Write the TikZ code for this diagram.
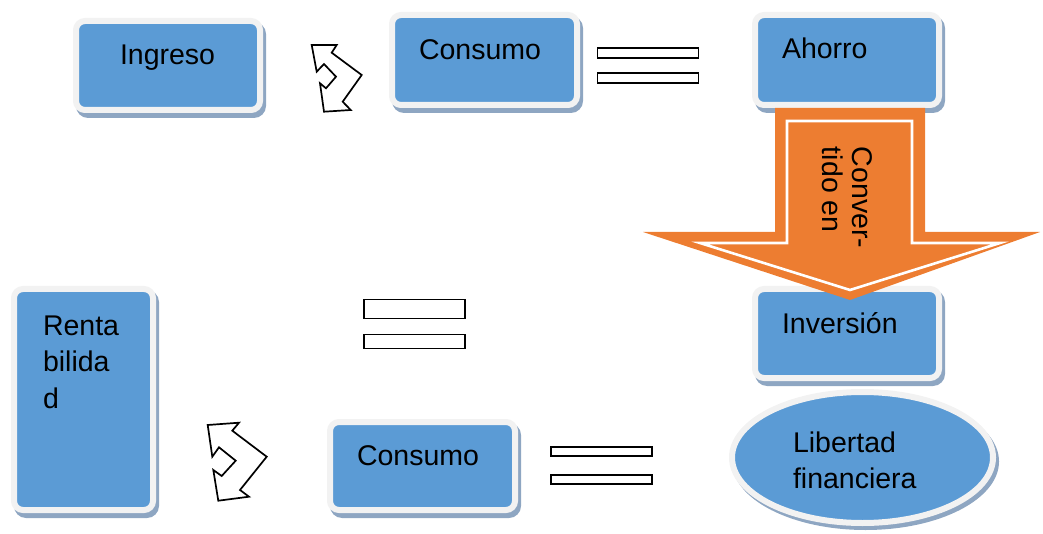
\documentclass[tikz,border=0pt]{standalone}
\usepackage{fontspec}
\setmainfont{Liberation Sans}
\usetikzlibrary{shapes.geometric,backgrounds}
\definecolor{boxblue}{HTML}{5B9BD5}
\definecolor{framegray}{HTML}{F2F2F2}
\definecolor{shadowblue}{HTML}{8EA6C2}
\definecolor{arroworange}{HTML}{ED7D31}

\begin{document}
\begin{tikzpicture}[x=1pt,y=-1pt,
  card/.style={draw=framegray, line width=6pt, fill=boxblue, rounded corners=9pt,
    inner sep=0pt, outer sep=0pt, minimum width=#1},
  cardtext/.style={inner sep=0pt, outer sep=0pt, anchor=base west,
    font=\fontsize{28.5}{36.5}\selectfont, align=left},
  bar/.style={draw=black, line width=1.4pt, fill=white, inner sep=0pt, outer sep=0pt,
    minimum width=101pt},
  cardshadow/.style={fill=shadowblue, rounded corners=12pt},
  bentarrow/.style={draw=black, fill=white, line width=1.7pt, line join=miter}
]
\useasboundingbox (0,0) rectangle (1043,534);

% rounded boxes
\node[card=184pt, minimum height=89pt] (ingreso) at (168,65.5) {};
\node[card=185pt, minimum height=90pt] (consumoA) at (484.5,60) {};
\node[card=184pt, minimum height=90pt] (ahorro) at (847,60) {};
\node[card=184pt, minimum height=89pt] (inversion) at (847,333.5) {};
\node[card=139pt, minimum height=221pt] (rentabilidad) at (83.5,399.5) {};
\node[card=185pt, minimum height=88pt] (consumoB) at (422.5,466) {};
\node[ellipse, draw=framegray, line width=6pt, fill=boxblue, inner sep=0pt, outer sep=0pt,
      minimum width=261pt, minimum height=131pt] (libertad) at (862.5,457.5) {};

% offset shadows behind the boxes
\begin{scope}[on background layer]
  \foreach \b in {ingreso,consumoA,ahorro,inversion,rentabilidad,consumoB}
    \fill[cardshadow] ([xshift=0pt,yshift=-8pt]\b.south west) rectangle ([xshift=6pt,yshift=-1pt]\b.north east);
  \fill[shadowblue] ([xshift=3pt,yshift=-4pt]libertad.center) ellipse [x radius=133.5pt, y radius=68.5pt];
\end{scope}

% box labels (multi-line labels are placed by the baseline of their last line)
\node[cardtext] (tIngreso) at (120,65) {Ingreso};
\node[cardtext] (tConsumoA) at (419,60) {Consumo};
\node[cardtext] (tAhorro) at (782,59) {Ahorro};
\node[cardtext] (tInversion) at (782,333) {Inversión};
\node[cardtext] (tRenta) at (43,408) {Renta\\bilida\\d};
\node[cardtext] (tConsumoB) at (357,465) {Consumo};
\node[cardtext, font=\fontsize{28.5}{36}\selectfont] (tLibertad) at (793,488) {Libertad\\financiera};

% equality signs
\node[bar, minimum height=10pt] (eqA1) at (648,53) {};
\node[bar, minimum height=10pt] (eqA2) at (648,78) {};
\node[bar, minimum height=19pt] (eqB1) at (414.5,309) {};
\node[bar, minimum height=14pt] (eqB2) at (414.5,341.5) {};
\node[bar, minimum height=9pt] (eqC1) at (601.5,451.5) {};
\node[bar, minimum height=9pt] (eqC2) at (601.5,479.5) {};

% double-headed bent arrows
\draw[bentarrow] (311.7,45) -- (336.7,45) -- (331.7,52.7) -- (361.7,75) -- (342.7,101.7)
  -- (350.7,110) -- (324,111.7) -- (320,83.3) -- (326,88.3) -- (336,76.7) -- (324,64)
  -- (316.7,71.7) -- cycle;
\draw[bentarrow] (207.7,425) -- (239,422.7) -- (232.3,430.7) -- (266.7,456.7) -- (240,490)
  -- (249,496.7) -- (218.3,500.7) -- (213.3,470) -- (221.7,476) -- (235.7,460.7) -- (219,447.3)
  -- (212.3,456.7) -- cycle;

% big block arrow from Ahorro down to Inversion
\fill[arroworange] (775,108) -- (925,108) -- (925,232) -- (1040,232) -- (850,300)
  -- (643,232) -- (775,232) -- cycle;
\draw[white, line width=2.6pt, line join=miter] (787,121) -- (912,121) -- (912,243)
  -- (1000,243) -- (850,290) -- (700,243) -- (787,243) -- cycle;
\node[cardtext, rotate=-90] (tConver) at (852,147) {Conver-};
\node[cardtext, rotate=-90] (tTido) at (822,147) {tido en};
\end{tikzpicture}
\end{document}
